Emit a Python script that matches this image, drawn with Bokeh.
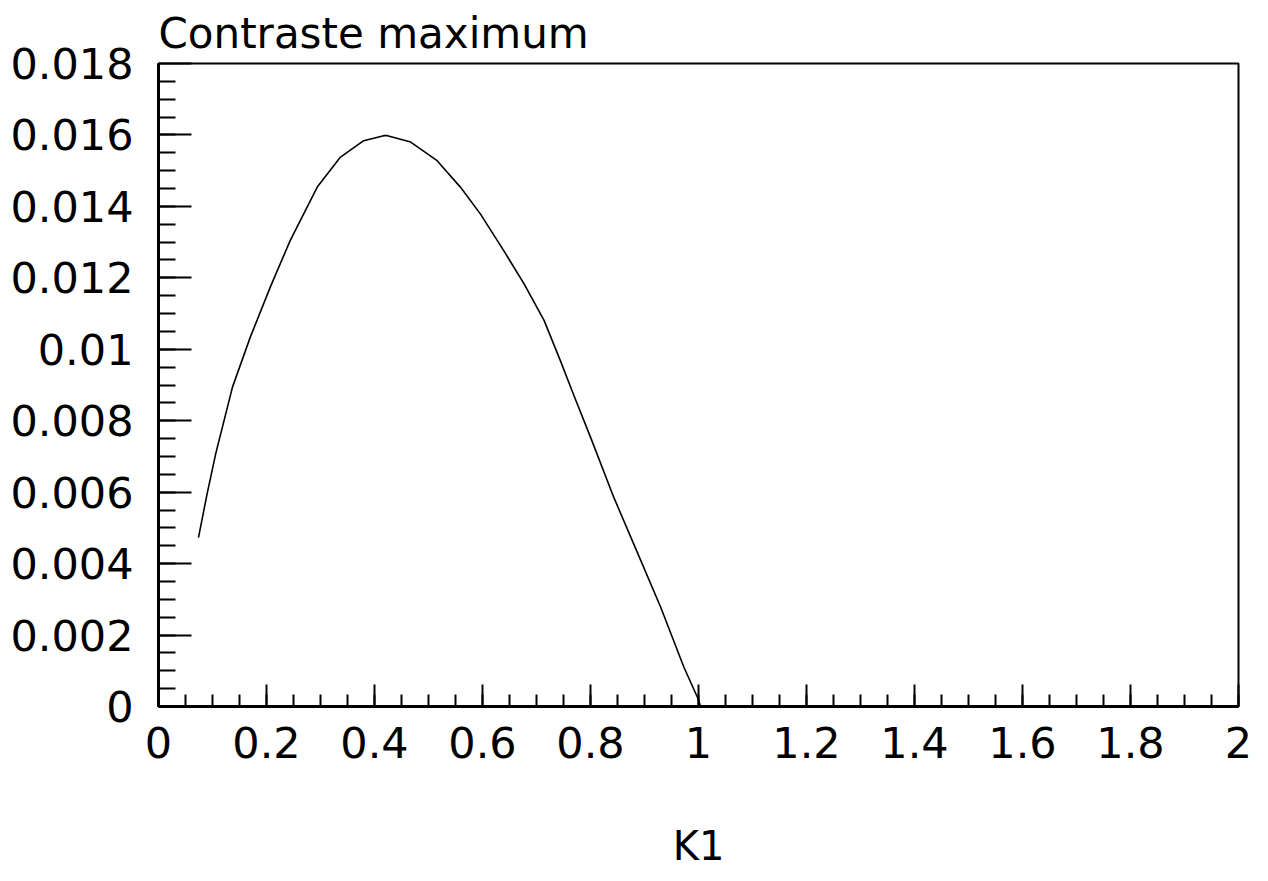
from bokeh.plotting import figure
from bokeh.models import FixedTicker, Range1d
from bokeh.embed import file_html
from bokeh.resources import INLINE

# Data
k1 = [0.074, 0.090, 0.106, 0.137, 0.170, 0.207, 0.244, 0.294, 0.337, 0.380, 0.417, 0.424,
      0.467, 0.516, 0.559, 0.596, 0.639, 0.677, 0.714, 0.744, 0.770, 0.800, 0.843,
      0.893, 0.930, 0.973, 0.998, 1.004, 1.2, 1.4, 1.6, 1.8, 1.89]
contraste = [0.00473, 0.00595, 0.00708, 0.00894, 0.01034, 0.01174, 0.01305, 0.01454, 0.01538,
             0.01584, 0.01598, 0.01598, 0.01580, 0.01528, 0.01454, 0.01379, 0.01277,
             0.01183, 0.01081, 0.00969, 0.00868, 0.00754, 0.00586, 0.00409, 0.00278,
             0.00110, 0.00026, 0.0, 0.0, 0.0, 0.0, 0.0, 0.0]

x_ticks = [0, 0.2, 0.4, 0.6, 0.8, 1, 1.2, 1.4, 1.6, 1.8, 2]
x_tick_labels = ["0", "0.2", "0.4", "0.6", "0.8", "1", "1.2", "1.4", "1.6", "1.8", "2"]
y_ticks = [0, 0.002, 0.004, 0.006, 0.008, 0.01, 0.012, 0.014, 0.016, 0.018]
y_tick_labels = ["0", "0.002", "0.004", "0.006", "0.008", "0.01", "0.012", "0.014", "0.016", "0.018"]
x_minor = [i * 0.05 for i in range(41)]
y_minor = [i * 0.0005 for i in range(37)]

title_text = "Contraste maximum"
x_label = "K1"

FONT = "DejaVu Sans"

p = figure(width=1258, height=878, output_backend="svg", toolbar_location=None,
           x_range=Range1d(0, 2), y_range=Range1d(0, 0.018),
           min_border_left=158, min_border_right=20, min_border_top=63,
           min_border_bottom=172, title=title_text)
p.grid.visible = False
p.background_fill_color = "white"
p.border_fill_color = "white"
p.outline_line_color = "black"
p.outline_line_width = 2

p.title.text_font = FONT
p.title.text_font_size = "42px"
p.title.text_font_style = "normal"
p.title.text_color = "black"
p.title.align = "left"
p.title.standoff = 12

p.line(k1, contraste, line_color="black", line_width=1.6)

# X axis
xa = p.xaxis[0]
xa.ticker = FixedTicker(ticks=x_ticks, minor_ticks=x_minor)
xa.major_label_overrides = {t: s for t, s in zip(x_ticks, x_tick_labels)}
xa.major_tick_in = 22
xa.major_tick_out = 0
xa.minor_tick_in = 12
xa.minor_tick_out = 0
xa.major_tick_line_width = 2
xa.minor_tick_line_width = 2
xa.axis_line_width = 3
xa.major_label_text_font = FONT
xa.major_label_text_font_size = "43px"
xa.major_label_text_color = "black"
xa.major_label_standoff = 20
xa.axis_label = x_label
xa.axis_label_text_font = FONT
xa.axis_label_text_font_size = "40px"
xa.axis_label_text_font_style = "normal"
xa.axis_label_text_color = "black"
xa.axis_label_standoff = 62

# Y axis
ya = p.yaxis[0]
ya.ticker = FixedTicker(ticks=y_ticks, minor_ticks=y_minor)
ya.major_label_overrides = {t: s for t, s in zip(y_ticks, y_tick_labels)}
ya.major_tick_in = 33
ya.major_tick_out = 0
ya.minor_tick_in = 17
ya.minor_tick_out = 0
ya.major_tick_line_width = 2
ya.minor_tick_line_width = 2
ya.axis_line_width = 3
ya.major_label_text_font = FONT
ya.major_label_text_font_size = "43px"
ya.major_label_text_color = "black"
ya.major_label_standoff = 25

open("out.html", "w").write(file_html(p, INLINE))
